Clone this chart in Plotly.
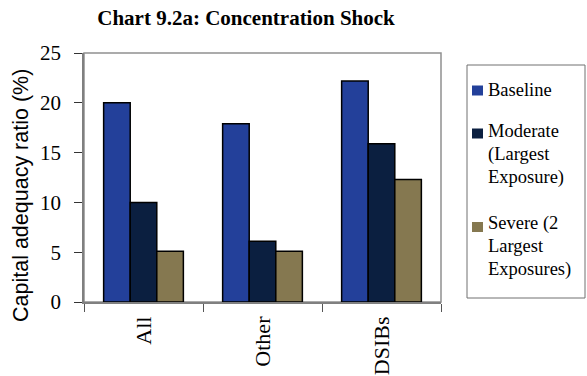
import plotly.graph_objects as go

# Capital adequacy ratio under concentration stress scenarios
categories = ["All", "Other", "DSIBs"]
baseline = [20.0, 17.9, 22.2]
moderate = [10.0, 6.1, 15.9]
severe = [5.1, 5.1, 12.3]

series_names = ["Baseline", "Moderate<br>(Largest<br>Exposure)", "Severe (2<br>Largest<br>Exposures)"]
series_colors = ["#23409A", "#0B1F40", "#857850"]
y_ticks = [0, 5, 10, 15, 20, 25]

serif = "Liberation Serif, Times New Roman, serif"
sans = "Liberation Sans, Arial, sans-serif"

W, H = 587, 376
L, R, T, B = 84, 146, 53, 74
pw, ph = W - L - R, H - T - B


def px_x(x):
    return (x - L) / pw


def px_y(y):
    return (H - B - y) / ph


fig = go.Figure()
for name, vals, col in zip(series_names, [baseline, moderate, severe], series_colors):
    fig.add_trace(go.Bar(
        x=categories, y=vals, name=name.replace("<br>", " "),
        marker=dict(color=col, line=dict(color="#000000", width=1.5)),
        showlegend=False,
    ))

shapes = [
    # plot frame
    dict(type="rect", xref="paper", yref="paper", x0=0, x1=1, y0=0, y1=1,
         line=dict(color="#909090", width=1.5), layer="below"),
    # legend box
    dict(type="rect", xref="paper", yref="paper",
         x0=px_x(467), x1=px_x(585), y0=px_y(298), y1=px_y(65),
         line=dict(color="#707070", width=1)),
]

annotations = [
    dict(text="Capital adequacy ratio (%)", textangle=-90, showarrow=False,
         xref="paper", yref="paper", x=px_x(21), y=px_y(196),
         xanchor="center", yanchor="middle",
         font=dict(family=sans, size=21.5, color="#000000")),
]

# legend: small square swatch plus wrapped label lines
entry_first_line = [90, 131, 223]
line_pitch = 23
swatch_centers = [90.5, 133.5, 227]
for name, col, y0, sy in zip(series_names, series_colors, entry_first_line, swatch_centers):
    shapes.append(dict(type="rect", xref="paper", yref="paper",
                       x0=px_x(472), x1=px_x(483), y0=px_y(sy + 5), y1=px_y(sy - 5),
                       fillcolor=col, line=dict(width=0)))
    for i, line in enumerate(name.split("<br>")):
        annotations.append(dict(
            text=line, showarrow=False, xref="paper", yref="paper",
            x=px_x(486), y=px_y(y0 + i * line_pitch),
            xanchor="left", yanchor="middle",
            font=dict(family=serif, size=18.5, color="#000000")))

fig.update_layout(
    width=W, height=H,
    margin=dict(l=L, r=R, t=T, b=B, autoexpand=False),
    paper_bgcolor="white", plot_bgcolor="white",
    barmode="group", bargap=0.33, bargroupgap=0,
    title=dict(text="<b>Chart 9.2a: Concentration Shock</b>",
               font=dict(family=serif, size=21, color="#000000"),
               x=246 / W, xanchor="center", y=1 - 18 / H, yanchor="middle"),
    showlegend=False,
    xaxis=dict(
        tickangle=-90, tickson="boundaries", ticks="outside", ticklen=8,
        tickcolor="#555555", showline=True, linecolor="#808080", linewidth=1.5,
        tickfont=dict(family=serif, size=22, color="#000000"),
        ticklabelstandoff=4,
        showgrid=False,
    ),
    yaxis=dict(
        range=[0, 25], tickvals=y_ticks, ticks="outside", ticklen=8,
        tickcolor="#333333", showline=True, linecolor="#808080", linewidth=1.5,
        tickfont=dict(family=serif, size=21, color="#000000"),
        ticklabelstandoff=9,
        showgrid=False, zeroline=False,
    ),
    shapes=shapes,
    annotations=annotations,
)

fig.write_html("out.html")
